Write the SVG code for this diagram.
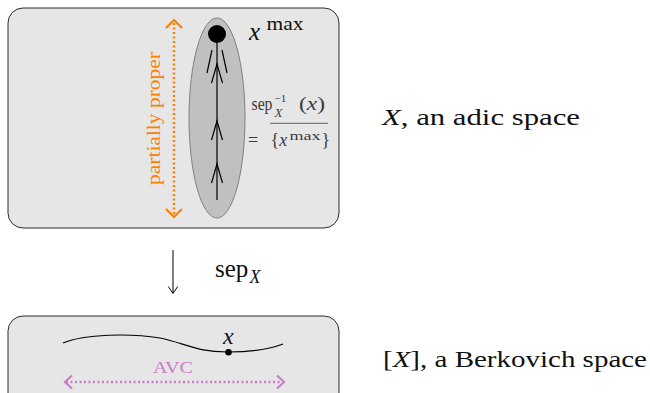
<svg xmlns="http://www.w3.org/2000/svg" width="650" height="393" viewBox="0 0 650 393">
<style>
.box{fill:#e6e6e6;stroke:#2a2a2a;stroke-width:1}
text{font-family:'Liberation Serif','DejaVu Serif','Times New Roman',serif}
.t{fill:#111}
.g{fill:#3a3a3a}
.i{font-style:italic}
.ln{fill:none;stroke:#000;stroke-width:1.2}
.orange{fill:none;stroke:#ff8000;stroke-width:2.2}
.purple{fill:none;stroke:#c77fc7;stroke-width:2.2}
</style>
<g font-family="Liberation Serif, DejaVu Serif, serif">
<g id="adic-space">
<rect class="box" x="8" y="8" width="331" height="220" rx="15"/>
<ellipse cx="217" cy="118" rx="28" ry="100" fill="#c0c0c0" stroke="#808080" stroke-width="1"/>
<line class="ln" x1="217" y1="35" x2="217" y2="200"/>
<path class="ln" d="M212,50 L207,73 M222,50 L227,73"/>
<path class="ln" d="M211.5,83 L217,64 L222.5,83"/>
<path class="ln" d="M211.5,140 L217,121 L222.5,140"/>
<path class="ln" d="M211.5,183 L217,164 L222.5,183"/>
<circle cx="217" cy="34" r="9" fill="#000"/>
<text class="t i" x="249" y="40" font-size="25">x</text>
<text class="t" x="266.5" y="30" font-size="18" textLength="37" lengthAdjust="spacingAndGlyphs">max</text>
<line x1="174" y1="23" x2="174" y2="215" stroke="#ff8000" stroke-width="2.5" stroke-dasharray="2,2.5"/>
<path class="orange" d="M166,28 L174,20 L182,28"/>
<path class="orange" d="M166,209 L174,217 L182,209"/>
<text class="t" transform="translate(160,185) rotate(-90)" font-size="18" style="fill:#ff8000" textLength="133" lengthAdjust="spacingAndGlyphs">partially proper</text>
<text class="t g" x="251.5" y="110" font-size="18" textLength="21" lengthAdjust="spacingAndGlyphs">sep</text>
<text class="t g" x="274.5" y="102" font-size="11">−1</text>
<text class="t g i" x="274.5" y="117" font-size="13">X</text>
<text class="t g" x="299" y="110" font-size="18" textLength="26" lengthAdjust="spacingAndGlyphs">(<tspan class="i">x</tspan>)</text>
<line x1="270" y1="123.3" x2="328" y2="123.3" stroke="#3a3a3a" stroke-width="0.8"/>
<text class="t g" x="248" y="146" font-size="18">=</text>
<text class="t g" x="270.5" y="146" font-size="18">{<tspan class="i">x</tspan></text>
<text class="t g" x="289.5" y="140" font-size="13" textLength="31" lengthAdjust="spacingAndGlyphs">max</text>
<text class="t g" x="321.5" y="146" font-size="18">}</text>
</g>
<g id="label-adic">
<text class="t" x="382" y="125" font-size="24" textLength="198" lengthAdjust="spacingAndGlyphs"><tspan class="i">X</tspan>, an adic space</text>
</g>
<g id="connectors">
<line x1="173" y1="250" x2="173" y2="293" stroke="#000" stroke-width="1"/>
<path d="M168.3,286.5 L173,293.5 L177.7,286.5" fill="none" stroke="#000" stroke-width="1"/>
<text class="t" x="215" y="276.7" font-size="25" textLength="33.3" lengthAdjust="spacingAndGlyphs">sep</text>
<text class="t i" x="249.5" y="283.3" font-size="18">X</text>
</g>
<g id="berkovich-space">
<rect class="box" x="8" y="316" width="331" height="100" rx="15"/>
<path class="ln" d="M63,343 C85,334 130,333 160,338 C185,343 195,352 228,352 C255,352 270,349 283,344" stroke-width="1.4"/>
<circle cx="228.5" cy="352.3" r="3.3" fill="#000"/>
<text class="t i" x="223" y="343.5" font-size="24">x</text>
<text class="t" x="153" y="373" font-size="17" style="fill:#c77fc7" textLength="40" lengthAdjust="spacingAndGlyphs">AVC</text>
<line x1="66" y1="382" x2="282" y2="382" stroke="#c77fc7" stroke-width="2.5" stroke-dasharray="2,2.5"/>
<path class="purple" d="M72,375.5 L65,382 L72,388.5"/>
<path class="purple" d="M277,375.5 L284,382 L277,388.5"/>
</g>
<g id="label-berkovich">
<text class="t" x="383" y="366.7" font-size="24" textLength="264" lengthAdjust="spacingAndGlyphs">[<tspan class="i">X</tspan>], a Berkovich space</text>
</g>
</g>
</svg>
